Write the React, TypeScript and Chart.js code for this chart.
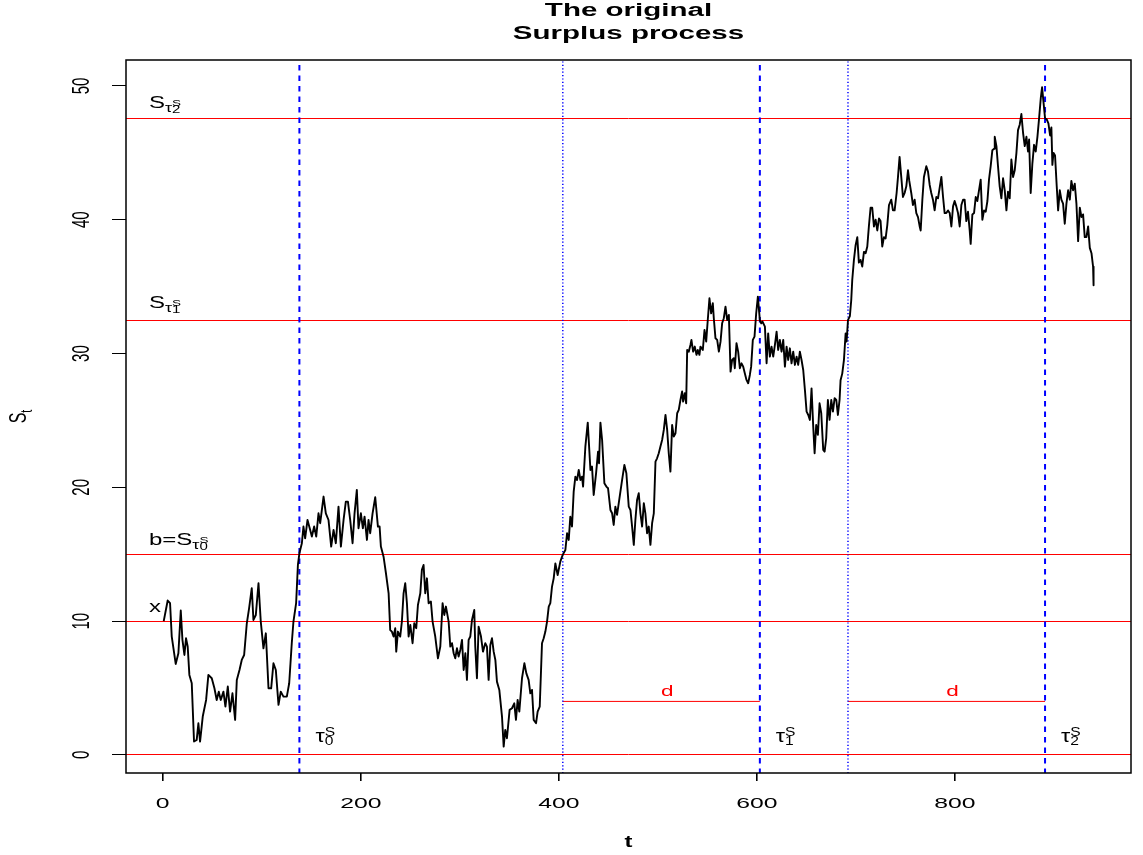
import React, { useEffect, useRef } from "react";
import { Chart, registerables } from "chart.js";

Chart.register(...registerables);

// ---------------- data ----------------
const tValues = [
  1, 5, 7.4, 9.1, 13.1, 15.8, 18.2, 19.9, 21.9, 23.5, 25.2, 26.9, 29.3, 31.6, 34.3, 36, 37.7, 40.4, 43.8, 46.1,
  49.5, 52.2, 54.5, 56.6, 58.6, 61.3, 63.3, 65.7, 68, 70.4, 73.1, 74.8, 77.5, 79.8, 82.2, 84.9, 87.2, 89.9, 91.6, 94,
  96.7, 99, 101.7, 104.1, 106.8, 109.5, 111.8, 114.2, 116.9, 119.2, 121.9, 125.3, 127.7, 130.3, 132, 134.7, 136.5,
  138, 140.5, 142.1, 143.8, 146.2, 148.9, 150.6, 152.9, 155, 157.3, 159, 162.4, 164.7, 167.4, 170.1, 172.5, 174.8, 177.5, 179.9, 182.6,
  184.9, 187, 189.3, 191.7, 193.7, 196, 197.7, 200.1, 202.1, 203.8, 206.2, 207.8, 209.5, 211.9, 214.6, 217.3, 219, 220.3, 223,
  225.4, 228.1, 229.7, 231.4, 233.1, 234.8, 235.8, 237.5, 239.8, 241.5, 243.2, 244.9, 246.6, 248.3, 250, 252.3, 254, 256, 257.7, 260.1,
  261.7, 263.4, 265.1, 266.8, 268.5, 270.8, 272.5, 275.2, 277.9, 280.3, 282.6, 284.3, 286, 288.7, 290.4, 292.1, 293.8, 295.4, 297.1, 298.8,
  300.5, 302.2, 303.9, 305.6, 307.2, 308.9, 310.6, 312.3, 314.6, 315.6, 317.3, 319, 321.4, 323.4, 325.7, 327.4, 329.1, 330.8, 332.5, 334.2,
  335.9, 337.5, 339.9, 342.6, 344.3,
  345.9, 347.6, 350.3, 352.7, 355, 356.7, 358.4, 360.1, 362.8, 365.2, 367.2, 369.5, 371.2, 372.9, 374.6, 377, 378.6, 380.7, 383, 384.7,
  386.4, 388.1, 389.8, 391.4, 393.1, 394.8, 396.5, 398.8, 401.5,
  403.9, 406.6, 408.3, 410, 411.6, 413.3, 415, 416.7, 418.4, 420.1, 421.8, 423.4, 424.5, 426.8, 429.2, 431.9, 433.5, 435.2, 437.6, 439.6,
  440.6, 442, 443.7, 446, 448, 449.7, 452.1, 453.8, 455.4, 457.1, 458.8, 461.2, 463.9, 466.2, 468.2, 470.6, 472.3, 474, 475.7, 477.3,
  479, 480.7, 482.4, 484.1, 485.8, 487.4, 489.1, 490.8, 492.5, 494.2, 495.9, 497.6, 499.2, 500.9, 502.6, 504.3, 506, 507.7, 509.4, 511,
  512.7, 514.4, 516.1, 517.8, 519.5, 521.1, 522.8, 524.5, 525.5, 527.2, 528.6, 529.6, 531.2, 532.9, 533.9, 535.6, 537.3, 539, 540.3, 542,
  543, 545.4, 547.1, 548.8, 550.4, 552.1, 553.8, 555.5, 556.5, 558.2, 559.9, 561.6, 563.3, 564.9, 566.6, 568.3, 570, 571.7, 573.4, 575,
  576.7, 577.7, 579.4, 581.1, 582.8, 584.5, 586.2, 587.8, 589.5, 591.2, 592.9, 594.2, 595.9, 597.6, 599.3, 601, 603, 604.4, 605.7, 608.1,
  609.8, 611.4, 613.1, 614.8, 616.5, 618.2, 619.9, 621.5, 623.2, 624.9, 626.6, 628.3, 630, 631.6, 633.3, 635, 636.7, 638.4, 640.1, 641.7,
  643.4, 645.1, 646.8, 648.5, 650.2, 651.9, 653.5, 655.2, 656.9, 658.3, 659.9, 661.6, 663.3, 665, 667, 668.4, 670, 671.7, 673.4, 675.1,
  676.8, 678.5, 680.2, 681.8, 683.5,
  684.5, 686.2, 687.9, 689.6, 690.6, 692, 693.9, 695.3, 696.3,
  698, 699.7, 701.4, 703, 704.7, 706.4, 708.1, 709.8, 711.5, 713.1, 714.8, 716.5, 718.2, 719.9, 721.6, 723.3, 724.9, 726.6, 728.3, 730,
  731.7, 733.4, 735.7, 737.4, 739.1, 741.1, 742.5, 744.1, 745.8, 747.5, 749.2, 750.9, 752.6, 753.9, 755.9, 757.6, 759.3, 761, 762.7, 764.4,
  765.4, 767.1, 768.7, 771.1, 772.8, 774.5, 776.1, 777.8, 779.5, 781.2, 782.9, 784.6, 786.3, 788, 789.6, 791.3, 793, 794.7, 796.4, 798.1,
  799.7, 801.4, 803.1, 804.8, 806.5, 808.2, 809.8, 811.5, 813.2, 814.9, 815.9, 817.6, 819.3, 821, 822.6, 824.3, 826, 827.7, 829.4, 831.1,
  832.8, 834.4, 836.1, 837.8, 839.5, 840.2, 841.9, 843.5, 845.2, 846.9, 848.6, 850.3, 852, 853.6, 855.3, 857, 858.7, 860.4, 862.1, 863.7,
  865.4, 867.1, 868.8, 870.5, 872.2, 873.8, 874.9, 876.5, 878.2, 879.9, 881.6, 883.3, 885, 886.7, 888, 889.3, 891, 892.7, 894.4, 896.1,
  897.4, 898.4, 899.5, 901.1, 902.8, 904.2, 905.9, 907.5, 909.2, 910.9, 912.6, 914.3, 916, 917.6, 919.3, 921, 922.7, 924.4, 926.1, 927.8,
  929.4, 931.1, 932.8, 934.5, 936.2, 937.9, 939.5, 940,
];

const sValues = [
  10, 11.54, 11.34, 8.85, 6.8, 7.6, 10.79, 8.6, 7.47, 8.72, 8.1, 5.98, 5.36, 1, 1.12, 2.37, 1, 2.87, 4.11, 5.98,
  5.73, 4.98, 4.11, 4.73, 4.11, 4.73, 3.61, 5.11, 3.24, 4.61, 2.62, 5.61, 6.35, 7.1, 7.47, 9.84, 10.96, 12.46, 10.09, 10.46,
  12.83, 9.97, 7.97, 9.09, 4.98, 4.98, 6.85, 6.35, 3.74, 4.73, 4.36, 4.36, 5.36, 8.35, 9.97, 11.34, 14.2,
  15.07, 15.82, 17.07, 16.19, 17.56, 16.82, 16.32, 17.07, 16.32, 18.06, 17.32, 19.31, 18.06, 17.56, 15.57, 16.82, 15.82, 18.56, 15.57, 17.56,
  18.93, 18.93, 17.56, 15.82, 18.06, 19.81, 16.94, 18.06, 16.94, 17.81, 16.07, 17.56, 16.57, 18.06, 19.26, 17.07, 17.07, 15.57, 14.82,
  13.58, 12.08, 9.34, 9.22, 8.85, 9.47, 7.72, 9.22, 8.85, 9.97, 12.08, 12.83, 11.34, 8.85, 9.72, 8.35, 9.84, 9.47, 11.21, 12.08,
  13.83, 14.2, 12.08, 13.2, 11.34, 11.46, 9.97, 8.85, 7.22, 8.1, 11.34, 10.46, 11.09, 9.97, 8.1, 8.35, 7.6, 7.22, 7.97, 7.35,
  7.85, 8.6, 6.35, 7.6, 5.61, 8.6, 8.85, 10.09, 10.84, 8.1, 5.73, 9.59, 8.85, 7.72, 8.35, 8.1, 5.61, 8.22, 8.72, 7.72,
  7.1, 5.48, 4.86, 2.87, 0.62,
  1.87, 1.25, 3.37, 3.49, 3.86, 2.62, 4.11, 3.24, 5.73, 6.85, 6.1, 5.61, 4.61, 4.86, 2.62, 2.37, 3.24, 3.61, 8.35, 8.72,
  9.22, 9.97, 11.09, 11.34, 12.58, 13.2, 14.32, 13.45, 14.45,
  14.95, 15.32, 16.57, 16.07, 17.81, 17.07, 19.68, 20.8, 20.55, 21.3, 20.55, 20.8, 20.06, 23.05, 24.84, 21.3, 21.55, 19.43, 21.05, 22.67,
  21.8, 24.84, 23.54, 20.31, 20.06, 19.93, 18.31, 18.06, 17.19, 18.56, 17.94, 19.18, 20.55, 21.68, 21.05, 18.56, 18.31, 17.07, 15.7, 17.56,
  19.06, 19.56, 18.06, 17.07, 18.81, 18.06, 16.57, 17.07, 15.7, 17.32, 18.06, 21.92, 22.17, 22.55, 23.05, 23.54, 24.29, 25.41, 24.29, 22.55,
  21.18, 24.66, 23.79, 24.04, 25.54, 25.79, 26.53, 27.16, 26.41, 27.03, 26.28, 30.27, 30.14, 30.64, 31.02, 30.14, 30.52, 29.9, 30.27, 29.9,
  30.52, 30.27, 31.76, 30.89, 32.51, 34.13, 33.01, 33.76, 32.64, 31.14, 31.02, 30.14, 30.89, 32.26, 32.64, 33.51, 32.51, 32.88, 28.65, 29.52,
  29.65, 28.9, 30.77, 30.14, 28.9, 29.27, 29.02, 28.53, 28.03, 27.78, 28.4, 29.02, 31.02, 31.27, 33.01, 34.25, 32.5, 32.26, 32.39, 32.01,
  29.27, 31.51, 29.77, 30.52, 29.77, 30.64, 31.64, 30.27, 31.02, 30.14, 31.02, 29.02, 30.52, 29.52, 30.39, 29.27, 30.14, 29.15, 29.77, 29.15,
  30.14, 29.52, 28.77, 27.28, 25.66, 25.41, 25.04, 27.4, 24.54, 22.55, 24.66, 23.92, 26.28, 25.54, 22.8, 22.67, 23.67, 26.53, 25.04, 26.53,
  25.66, 26.66, 26.53, 25.41, 26.53,
  28, 28.5, 29.5, 31.5, 30.9, 32.5, 32.8, 34, 35.5,
  37, 38.1, 38.7, 36.8, 37, 36.5, 37.6, 37.5, 38, 39.5, 40.9, 40.9, 39.5, 40, 39.2, 40.1, 39.9, 38, 38.7, 38.6,
  39.6, 41.1, 41.5, 40.7, 40.7, 42, 43.2, 44.7, 43.2, 41.7, 42, 42.5, 43.7, 42.9, 42, 41.1, 41.5, 40.5, 40.2, 39.5,
  39.2, 41.5, 43.2, 44, 43.6, 42.6, 42, 41.5, 40.7, 41.7, 41.6, 42.4, 43.2, 41.7, 40.5, 40.5, 40.7, 40.5, 39.5, 41,
  41.4, 41, 40.5, 39.5, 41.1, 41.5, 41.5, 39.9, 40.6, 39.2, 38.2, 40.4, 40.5, 41.7, 41.4, 42.2, 43, 40, 40.7, 40.6,
  41.4, 43, 44, 45.2, 45.3, 46.2, 45.5, 44, 42.5, 41.6, 43.1, 42.2, 40.7, 42.1, 41.6, 44.5, 43.2, 43.7, 45, 46.7,
  47.1, 47.9, 46.5, 45.5, 46.2, 45.1, 46, 42, 44.2, 45.6, 45.1, 46.2, 47.6, 49.1, 49.9, 48.9, 47.6, 47.5, 47.2, 46.3,
  46.9, 44.1, 45, 44.8, 42.5, 40.7, 42.2, 41.5, 41.2, 39.7, 41.2, 42.2, 41.5, 42.9, 42.2, 42.7, 41.2, 38.4, 40.9, 40.2,
  40.4, 38.7, 38.7, 39.5, 37.9, 37.5, 36.5, 35.1,
];

const xTicks = [0, 200, 400, 600, 800];
const yTicks = [0, 10, 20, 30, 40, 50];
const xLimits = [-37.1, 977.8];
const yLimits = [-1.35, 51.94];

const zeroLevel = 0;
const startLevel = 10; // x
const bLevel = 15; // b = S_tau0
const s1Level = 32.5; // S_tau1
const s2Level = 47.6; // S_tau2
const redLevels = [zeroLevel, startLevel, bLevel, s1Level, s2Level];

const tauValues = [138, 603, 891];
const dLength = 199;
const dLevel = 4;

const titleLines = ["The original", "Surplus process"];
const xTitle = "t";

// ---------------- drawing helpers ----------------
const FONT = '"Liberation Sans", Arial, Helvetica, sans-serif';
type Piece = { text: string; size: number; dy?: number; bold?: boolean; stack?: boolean };

function fontOf(p: Piece) {
  return `${p.bold ? "bold " : ""}${p.size}px ${FONT}`;
}

function drawRich(
  ctx: CanvasRenderingContext2D,
  pieces: Piece[],
  x: number,
  y: number,
  opts: { sx: number; align: "left" | "center"; color?: string; rotate?: boolean }
) {
  ctx.save();
  ctx.translate(x, y);
  ctx.scale(opts.sx, 1);
  if (opts.rotate) ctx.rotate(-Math.PI / 2);
  ctx.fillStyle = opts.color || "#000";
  ctx.textAlign = "left";
  ctx.textBaseline = "alphabetic";
  const pos: number[] = [];
  let w = 0;
  for (let i = 0; i < pieces.length; i++) {
    ctx.font = fontOf(pieces[i]);
    const pw = ctx.measureText(pieces[i].text).width;
    if (pieces[i].stack && i + 1 < pieces.length) {
      ctx.font = fontOf(pieces[i + 1]);
      const qw = ctx.measureText(pieces[i + 1].text).width;
      pos.push(w, w);
      w += Math.max(pw, qw);
      i++;
    } else {
      pos.push(w);
      w += pw;
    }
  }
  const x0 = opts.align === "center" ? -w / 2 : 0;
  pieces.forEach((p, i) => {
    ctx.font = fontOf(p);
    ctx.fillText(p.text, x0 + pos[i], p.dy || 0);
  });
  ctx.restore();
}

function sLabel(prefix: string, idx: string): Piece[] {
  return [
    { text: prefix, size: 16 },
    { text: "τ", size: 12, dy: 3.5 },
    { text: "S", size: 9, dy: -2.5, stack: true },
    { text: idx, size: 10, dy: 5 },
  ];
}

function tauLabel(idx: string): Piece[] {
  return [
    { text: "τ", size: 18 },
    { text: "S", size: 12, dy: -5.7, stack: true },
    { text: idx, size: 12, dy: 3.3 },
  ];
}

const annotationPlugin = {
  id: "rAnnotations",
  afterDraw(chart: any) {
    const ctx: CanvasRenderingContext2D = chart.ctx;
    const area = chart.chartArea;
    const xs = chart.scales.x;
    const ys = chart.scales.y;
    const X = (v: number) => xs.getPixelForValue(v);
    const Y = (v: number) => ys.getPixelForValue(v);
    const cx = (area.left + area.right) / 2;
    const cy = (area.top + area.bottom) / 2;

    // box
    ctx.save();
    ctx.strokeStyle = "#000";
    ctx.lineWidth = 1.5;
    ctx.strokeRect(area.left, area.top, area.right - area.left, area.bottom - area.top);
    ctx.restore();

    // title
    drawRich(ctx, [{ text: titleLines[0], size: 18, bold: true }], cx, 16, { sx: 1.64, align: "center" });
    drawRich(ctx, [{ text: titleLines[1], size: 18, bold: true }], cx, 38.5, { sx: 1.64, align: "center" });

    // x tick labels
    xs.ticks.forEach((t: any) => {
      drawRich(ctx, [{ text: String(t.value), size: 15 }], X(t.value), 808, { sx: 1.65, align: "center" });
    });
    // y tick labels (rotated)
    ys.ticks.forEach((t: any) => {
      drawRich(ctx, [{ text: String(t.value), size: 15 }], 89, Y(t.value), { sx: 1.65, align: "center", rotate: true });
    });

    // axis titles
    drawRich(ctx, [{ text: xTitle, size: 17, bold: true }], cx, 847, { sx: 1.4, align: "center" });
    drawRich(ctx, [{ text: "S", size: 16 }, { text: "t", size: 11, dy: 4 }], 26, cy, {
      sx: 1.5,
      align: "center",
      rotate: true,
    });

    // level labels
    const lx = area.left + 23;
    drawRich(ctx, sLabel("S", "2"), lx, Y(s2Level) - 10, { sx: 1.5, align: "left" });
    drawRich(ctx, sLabel("S", "1"), lx, Y(s1Level) - 12, { sx: 1.5, align: "left" });
    drawRich(ctx, sLabel("b=S", "0"), lx, Y(bLevel) - 9, { sx: 1.5, align: "left" });
    drawRich(ctx, [{ text: "x", size: 16 }], lx, Y(startLevel) - 9, { sx: 1.5, align: "left" });

    // tau labels
    tauValues.forEach((t, i) => {
      drawRich(ctx, tauLabel(String(i)), X(t) + 16, Y(zeroLevel) - 13, { sx: 1.3, align: "left" });
    });

    // d labels
    tauValues.slice(1).forEach((t) => {
      drawRich(ctx, [{ text: "d", size: 15 }], X(t - dLength / 2) + 6, Y(dLevel) - 5, {
        sx: 1.5,
        align: "center",
        color: "#ff0000",
      });
    });
  },
};

function lineDs(data: { x: number; y: number }[], color: string, width: number, dash?: number[], dashOffset = 0) {
  return {
    data,
    showLine: true,
    borderColor: color,
    borderWidth: width,
    borderDash: dash || [],
    borderDashOffset: dashOffset,
    pointRadius: 0,
    pointHoverRadius: 0,
    tension: 0,
    fill: false,
  };
}

export default function App() {
  const ref = useRef<HTMLCanvasElement>(null);

  useEffect(() => {
    const canvas = ref.current;
    if (!canvas) return;
    const series = tValues.map((t, i) => ({ x: t, y: sValues[i] }));
    const datasets: any[] = [
      { ...lineDs(series, "#000000", 1.9), borderJoinStyle: "round" },
      ...tauValues.map((t) =>
        lineDs(
          [
            { x: t, y: yLimits[1] },
            { x: t, y: yLimits[0] },
          ],
          "#0000ff",
          2,
          [5.5, 5],
          5.5
        )
      ),
      ...tauValues.slice(1).map((t) =>
        lineDs(
          [
            { x: t - dLength, y: yLimits[1] },
            { x: t - dLength, y: yLimits[0] },
          ],
          "#0000ff",
          1.5,
          [1.2, 2.2],
          2
        )
      ),
      ...tauValues.slice(1).map((t) =>
        lineDs(
          [
            { x: t - dLength, y: dLevel },
            { x: t, y: dLevel },
          ],
          "#ff0000",
          1
        )
      ),
    ];

    const chart = new Chart(canvas, {
      type: "scatter",
      data: { datasets },
      plugins: [annotationPlugin],
      options: {
        animation: false,
        responsive: false,
        devicePixelRatio: 1,
        events: [],
        layout: { padding: { left: 0, right: 12, top: 60, bottom: 0 } },
        plugins: { legend: { display: false }, tooltip: { enabled: false }, title: { display: false } },
        scales: {
          x: {
            type: "linear",
            min: xLimits[0],
            max: xLimits[1],
            afterBuildTicks: (s: any) => {
              s.ticks = xTicks.map((v) => ({ value: v }));
            },
            afterFit: (s: any) => {
              s.height = 82;
            },
            ticks: { display: false },
            grid: { drawOnChartArea: false, drawTicks: true, tickLength: 8, color: "#000", lineWidth: 1.6 },
            border: { display: false },
          },
          y: {
            type: "linear",
            min: yLimits[0],
            max: yLimits[1],
            afterBuildTicks: (s: any) => {
              s.ticks = yTicks.map((v) => ({ value: v }));
            },
            afterFit: (s: any) => {
              s.width = 126;
            },
            ticks: { display: false },
            grid: { drawOnChartArea: false, drawTicks: true, tickLength: 14, color: "#000", lineWidth: 1 },
            border: { display: false },
          },
          // horizontal reference levels drawn as red grid lines of a hidden axis
          yLevels: {
            type: "linear",
            position: "right",
            min: yLimits[0],
            max: yLimits[1],
            afterBuildTicks: (s: any) => {
              s.ticks = redLevels.map((v) => ({ value: v }));
            },
            afterFit: (s: any) => {
              s.width = 0;
            },
            ticks: { display: false },
            grid: { drawOnChartArea: true, drawTicks: false, color: "#ff0000", lineWidth: 1 },
            border: { display: false },
          },
        },
      } as any,
    });
    return () => chart.destroy();
  }, []);

  return (
    <div style={{ position: "fixed", left: 0, top: 0, width: 1143, height: 855, background: "#fff" }}>
      <canvas ref={ref} width={1143} height={855} style={{ display: "block" }} />
    </div>
  );
}
